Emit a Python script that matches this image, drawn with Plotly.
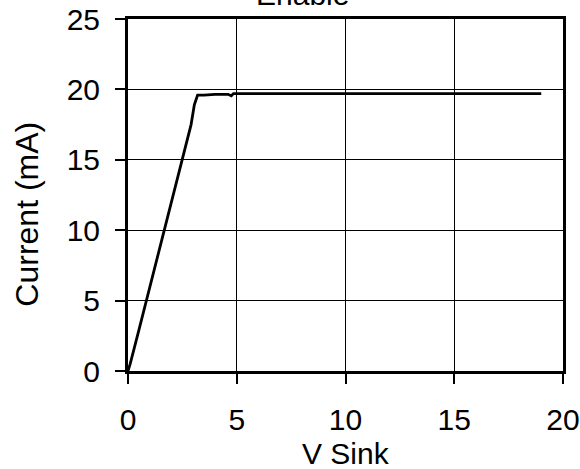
import plotly.graph_objects as go

# Sink current vs. sink voltage with the output enabled
v_sink = [0, 0.1, 0.5, 1.0, 1.5, 2.0, 2.5, 2.9, 3.05, 3.2, 3.5, 4.0, 4.6, 4.75, 4.85, 5.0, 10, 15, 19]
current_ma = [0, 0.5, 2.9, 5.9, 9.0, 12.0, 15.0, 17.5, 18.9, 19.6, 19.6, 19.65, 19.65, 19.55, 19.7, 19.7, 19.7, 19.7, 19.7]

x_ticks = [0, 5, 10, 15, 20]
y_ticks = [0, 5, 10, 15, 20, 25]

FONT = "Liberation Sans, Arial, sans-serif"
SIZE = 30

fig = go.Figure()
fig.add_trace(go.Scatter(
    x=v_sink, y=current_ma, mode="lines",
    line=dict(color="black", width=2.8),
    showlegend=False, hoverinfo="skip",
))

axis_common = dict(
    showline=True, linecolor="black", linewidth=3, mirror=True,
    showgrid=True, gridcolor="black", gridwidth=1,
    zeroline=False, ticks="outside", ticklen=10, tickwidth=2, tickcolor="black",
    tickfont=dict(family=FONT, size=SIZE, color="black"),
    automargin=False,
)

fig.update_xaxes(
    range=[0, 20], tickvals=x_ticks, ticktext=[str(t) for t in x_ticks],
    ticklabelstandoff=10, **axis_common,
)
fig.update_yaxes(
    range=[0, 25], tickvals=y_ticks, ticktext=[str(t) for t in y_ticks],
    ticklabelstandoff=9, **axis_common,
)

title_font = dict(family=FONT, size=SIZE, color="black")

# Axis titles and chart title
fig.add_annotation(
    text="V Sink", xref="paper", yref="paper", x=0.5, y=-0.233,
    xanchor="center", yanchor="middle", showarrow=False, font=title_font,
)
fig.add_annotation(
    text="Current (mA)", xref="paper", yref="paper", x=-0.233, y=0.446,
    xanchor="center", yanchor="middle", textangle=-90, showarrow=False,
    font=dict(family=FONT, size=32, color="black"),
)
fig.add_annotation(
    text="Enable", xref="paper", yref="paper", x=0.40, y=1.071,
    xanchor="center", yanchor="middle", showarrow=False, font=title_font,
)

fig.update_layout(
    width=580, height=469,
    margin=dict(l=128, r=17, t=19, b=98),
    paper_bgcolor="white", plot_bgcolor="white",
)

fig.write_html("out.html")
